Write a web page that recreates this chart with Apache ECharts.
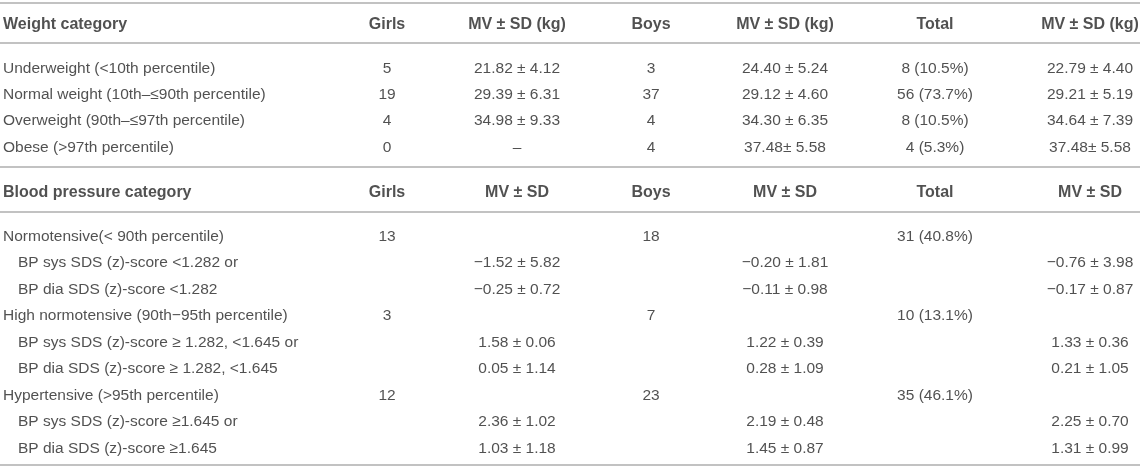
<!DOCTYPE html>
<html>
<head>
<meta charset="utf-8">
<script src="https://cdn.jsdelivr.net/npm/echarts@6/dist/echarts.min.js"></script>
<style>
html,body{margin:0;padding:0;background:#fff;}
#chart{width:1143px;height:470px;}
</style>
</head>
<body>
<div id="chart"></div>
<script>
// ---- data ----
const weightHeader = ['Weight category', 'Girls', 'MV ± SD (kg)', 'Boys', 'MV ± SD (kg)', 'Total', 'MV ± SD (kg)'];
const weightCategories = ['Underweight (<10th percentile)', 'Normal weight (10th–≤90th percentile)', 'Overweight (90th–≤97th percentile)', 'Obese (>97th percentile)'];
const weightGirls = ['5', '19', '4', '0'];
const weightGirlsMV = ['21.82 ± 4.12', '29.39 ± 6.31', '34.98 ± 9.33', '–'];
const weightBoys = ['3', '37', '4', '4'];
const weightBoysMV = ['24.40 ± 5.24', '29.12 ± 4.60', '34.30 ± 6.35', '37.48± 5.58'];
const weightTotal = ['8 (10.5%)', '56 (73.7%)', '8 (10.5%)', '4 (5.3%)'];
const weightTotalMV = ['22.79 ± 4.40', '29.21 ± 5.19', '34.64 ± 7.39', '37.48± 5.58'];

const bpHeader = ['Blood pressure category', 'Girls', 'MV ± SD', 'Boys', 'MV ± SD', 'Total', 'MV ± SD'];
const bpCategories = ['Normotensive(< 90th percentile)', 'BP sys SDS (z)-score <1.282 or', 'BP dia SDS (z)-score <1.282',
  'High normotensive (90th−95th percentile)', 'BP sys SDS (z)-score ≥ 1.282, <1.645 or', 'BP dia SDS (z)-score ≥ 1.282, <1.645',
  'Hypertensive (>95th percentile)', 'BP sys SDS (z)-score ≥1.645 or', 'BP dia SDS (z)-score ≥1.645'];
const bpSubRow = [false, true, true, false, true, true, false, true, true];
const bpGirls = ['13', '', '', '3', '', '', '12', '', ''];
const bpGirlsMV = ['', '−1.52 ± 5.82', '−0.25 ± 0.72', '', '1.58 ± 0.06', '0.05 ± 1.14', '', '2.36 ± 1.02', '1.03 ± 1.18'];
const bpBoys = ['18', '', '', '7', '', '', '23', '', ''];
const bpBoysMV = ['', '−0.20 ± 1.81', '−0.11 ± 0.98', '', '1.22 ± 0.39', '0.28 ± 1.09', '', '2.19 ± 0.48', '1.45 ± 0.87'];
const bpTotal = ['31 (40.8%)', '', '', '10 (13.1%)', '', '', '35 (46.1%)', '', ''];
const bpTotalMV = ['', '−0.76 ± 3.98', '−0.17 ± 0.87', '', '1.33 ± 0.36', '0.21 ± 1.05', '', '2.25 ± 0.70', '1.31 ± 0.99'];

// ---- layout ----
const colX = [3, 387, 517, 651, 785, 935, 1090];
const subIndent = 18;
const weightHeaderY = 24.5;
const weightRowY0 = 68.5, weightRowStep = 26.3;
const bpHeaderY = 192.5;
const bpRowY0 = 236.5, bpRowStep = 26.5;
const ruleY = [3, 43, 167, 212, 465];

const headerPts = [], leftPts = [], centerPts = [];
function addHeader(arr, y) {
  arr.forEach((t, c) => headerPts.push({ value: [colX[c], y], name: t, label: { align: c === 0 ? 'left' : 'center' } }));
}
function addRows(cats, cols, y0, step, sub) {
  cats.forEach((t, r) => {
    const y = y0 + r * step;
    leftPts.push({ value: [(sub && sub[r]) ? subIndent : colX[0], y], name: t });
    cols.forEach((col, c) => {
      if (col[r] !== '') centerPts.push({ value: [colX[c + 1], y], name: col[r] });
    });
  });
}
addHeader(weightHeader, weightHeaderY);
addHeader(bpHeader, bpHeaderY);
addRows(weightCategories, [weightGirls, weightGirlsMV, weightBoys, weightBoysMV, weightTotal, weightTotalMV], weightRowY0, weightRowStep, null);
addRows(bpCategories, [bpGirls, bpGirlsMV, bpBoys, bpBoysMV, bpTotal, bpTotalMV], bpRowY0, bpRowStep, bpSubRow);

const font = '"Liberation Sans", Arial, Helvetica, sans-serif';
const textColor = '#262626';
function textSeries(data, align, bold) {
  return {
    type: 'scatter', data: data, symbolSize: 1, silent: true,
    itemStyle: { color: 'rgba(0,0,0,0)' },
    label: {
      show: true, position: 'inside', formatter: '{b}', align: align, verticalAlign: 'middle',
      color: textColor, fontFamily: font, fontSize: bold ? 16 : 15.5, fontWeight: bold ? 'bold' : 'normal'
    }
  };
}

const chart = echarts.init(document.getElementById('chart'), null, { renderer: 'canvas' });
const s0 = textSeries(leftPts, 'left', false);
s0.markLine = {
  silent: true, symbol: ['none', 'none'], label: { show: false },
  lineStyle: { color: '#c2c2c2', width: 2, type: 'solid' },
  data: ruleY.map(y => ({ yAxis: y }))
};
chart.setOption({
  animation: false,
  backgroundColor: '#ffffff',
  grid: { left: 0, right: 3, top: 0, bottom: 0 },
  xAxis: { type: 'value', min: 0, max: 1140, show: false },
  yAxis: { type: 'value', min: 0, max: 470, inverse: true, show: false },
  series: [s0, textSeries(centerPts, 'center', false), textSeries(headerPts, 'center', true)]
});
</script>
</body>
</html>
